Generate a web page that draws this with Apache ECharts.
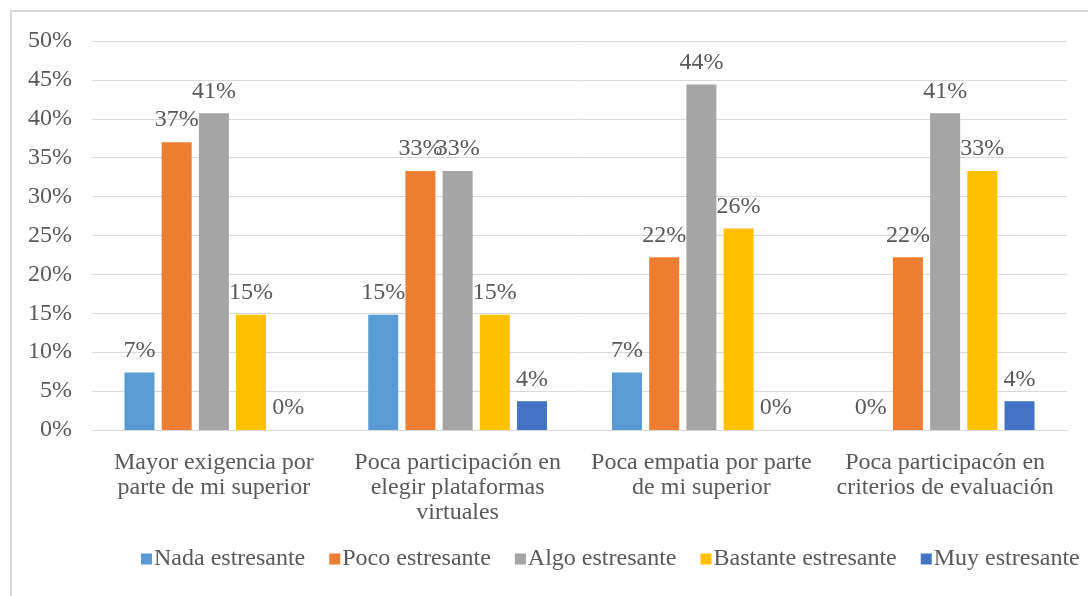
<!DOCTYPE html>
<html>
<head>
<meta charset="utf-8">
<script src="https://cdn.jsdelivr.net/npm/echarts@6/dist/echarts.min.js"></script>
<style>
  html, body { margin: 0; padding: 0; background: #fff; }
  #main { width: 1088px; height: 596px; }
</style>
</head>
<body>
<div id="main"></div>
<script>
// datos
var categorias = [
    'Mayor exigencia por\nparte de mi superior',
    'Poca participación en\nelegir plataformas\nvirtuales',
    'Poca empatia por parte\nde mi superior',
    'Poca participacón en\ncriterios de evaluación'
];
var series_nombres = ['Nada estresante', 'Poco estresante', 'Algo estresante', 'Bastante estresante', 'Muy estresante'];
var nada = [7.4, 14.8, 7.4, 0];
var poco = [37.0, 33.3, 22.2, 22.2];
var algo = [40.7, 33.3, 44.4, 40.7];
var bastante = [14.8, 14.8, 25.9, 33.3];
var muy = [0, 3.7, 0, 3.7];
var colores = ['#5B9BD5', '#ED7D31', '#A5A5A5', '#FFC000', '#4472C4'];

var fuente = 'Liberation Serif';
var gris = '#595959';
var tam = 24;

var myChart = echarts.init(document.getElementById('main'));

var valores = [nada, poco, algo, bastante, muy];
var series = [];
for (var i = 0; i < valores.length; i++) {
    series.push({
        name: series_nombres[i],
        type: 'bar',
        data: valores[i],
        barWidth: 30,
        barGap: '24%',
        itemStyle: { color: colores[i] },
        label: {
            show: true,
            position: 'top',
            distance: 10,
            fontFamily: fuente,
            fontSize: tam,
            color: gris,
            formatter: function (p) { return Math.round(p.value) + '%'; }
        }
    });
}

var option = {
    backgroundColor: '#fff',
    animation: false,
    color: colores,
    graphic: [{
        type: 'rect',
        shape: { x: 11, y: 11, width: 1090, height: 600 },
        style: { fill: 'none', stroke: '#d9d9d9', lineWidth: 2 }
    }],
    grid: { left: 92, right: 21, top: 41, bottom: 166, containLabel: false },
    legend: {
        data: series_nombres,
        left: 136,
        top: 542,
        itemWidth: 11,
        itemHeight: 11,
        itemGap: 24,
        icon: 'rect',
        textStyle: { fontFamily: fuente, fontSize: tam, color: gris, padding: [0, 0, 0, -3] }
    },
    xAxis: {
        type: 'category',
        data: categorias,
        axisLine: { lineStyle: { color: '#d9d9d9' } },
        axisTick: { show: false },
        axisLabel: {
            fontFamily: fuente,
            fontSize: tam,
            color: gris,
            lineHeight: 25,
            margin: 20,
            interval: 0
        }
    },
    yAxis: {
        type: 'value',
        min: 0,
        max: 50,
        interval: 5,
        axisLine: { show: false },
        axisTick: { show: false },
        splitLine: { lineStyle: { color: '#d9d9d9' } },
        axisLabel: {
            fontFamily: fuente,
            fontSize: tam,
            color: gris,
            margin: 20,
            formatter: '{value}%'
        }
    },
    series: series
};

myChart.setOption(option);
</script>
</body>
</html>
